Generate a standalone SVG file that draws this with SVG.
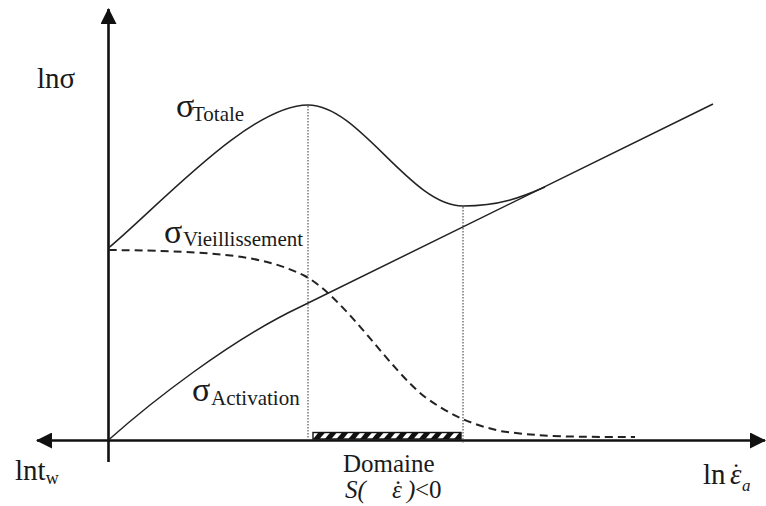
<svg xmlns="http://www.w3.org/2000/svg" width="766" height="506" viewBox="0 0 766 506">
  <style>
    .axis { stroke: #111; stroke-width: 2.6; fill: none; }
    .curve { stroke: #222; stroke-width: 1.5; fill: none; }
    .dash { stroke: #222; stroke-width: 2; fill: none; stroke-dasharray: 8 5; }
    .guide { stroke: #555; stroke-width: 1.2; fill: none; stroke-dasharray: 1.5 1.5; }
    text { font-family: "Liberation Serif", "Times New Roman", serif; fill: #1a1a1a; }
    .big { font-size: 29px; }
    .sig { font-size: 34px; }
    .sub { font-size: 21px; }
    .lbl { font-size: 25px; }
  </style>
  <defs>
    <marker id="arrow" viewBox="0 0 16 16" refX="15" refY="8" markerWidth="16" markerHeight="16" markerUnits="userSpaceOnUse" orient="auto">
      <path d="M0,0 L16,8 L0,16 Z" fill="#111"/>
    </marker>
    <pattern id="hatch" width="9" height="9" patternUnits="userSpaceOnUse" patternTransform="rotate(40)">
      <rect width="9" height="9" fill="#fff"/>
      <rect width="5" height="9" fill="#111"/>
    </pattern>
  </defs>

  <!-- axes -->
  <g id="axes">
    <line class="axis" x1="108.5" y1="462" x2="108.5" y2="9" marker-end="url(#arrow)"/>
    <line class="axis" x1="108.5" y1="440.5" x2="765" y2="440.5" marker-end="url(#arrow)"/>
    <line class="axis" x1="108.5" y1="440.5" x2="37" y2="440.5" marker-end="url(#arrow)"/>
  </g>

  <!-- vertical guides at the peak and the valley -->
  <g id="guides">
    <line class="guide" x1="308" y1="106" x2="308" y2="439"/>
    <line class="guide" x1="463" y1="207" x2="463" y2="444"/>
  </g>

  <!-- curves -->
  <g id="curves">
    <path id="activation" class="curve" d="M108.5,440 C150,403 230,340 300,307 L713,104"/>
    <path id="totale" class="curve" d="M108.5,248 C160,205 250,105 308,105 C360,105 410,206 463,206 C500,206 522,197 545,187"/>
    <path id="vieillissement" class="dash" d="M108.5,250 C220,251 265,256 305,276 C345,298 390,370 425,397 C450,415 470,424 500,431 C540,437 580,437 635,437"/>
  </g>

  <!-- domain where S < 0 -->
  <g id="domaine">
    <rect x="313" y="432.5" width="148" height="6.5" fill="url(#hatch)" stroke="#111" stroke-width="1.4"/>
  </g>

  <!-- labels -->
  <g id="labels">
    <text class="big" x="37" y="88">lnσ</text>
    <text x="176" y="117"><tspan class="sig">σ</tspan><tspan class="sub" x="192" y="121">Totale</tspan></text>
    <text x="164" y="243"><tspan class="sig">σ</tspan><tspan class="sub" x="183" y="246">Vieillissement</tspan></text>
    <text x="192" y="401"><tspan class="sig">σ</tspan><tspan class="sub" x="211" y="405">Activation</tspan></text>
    <text class="lbl" x="343" y="472">Domaine</text>
    <text class="lbl" y="498"><tspan x="345" font-style="italic">S(</tspan><tspan x="392" font-style="italic">ε</tspan><tspan x="407" font-style="italic">)</tspan><tspan x="415">&lt;0</tspan><tspan x="398" font-size="26" text-anchor="middle">˙</tspan></text>
    <text x="15" y="480"><tspan class="big">lnt</tspan><tspan font-size="18" y="484">w</tspan></text>
    <text x="703" y="484"><tspan class="big">ln</tspan><tspan class="big" font-style="italic" x="730">ε</tspan><tspan font-size="17" font-style="italic" x="742" y="491">a</tspan><tspan x="736" y="481" font-size="26" text-anchor="middle">˙</tspan></text>
  </g>
</svg>
